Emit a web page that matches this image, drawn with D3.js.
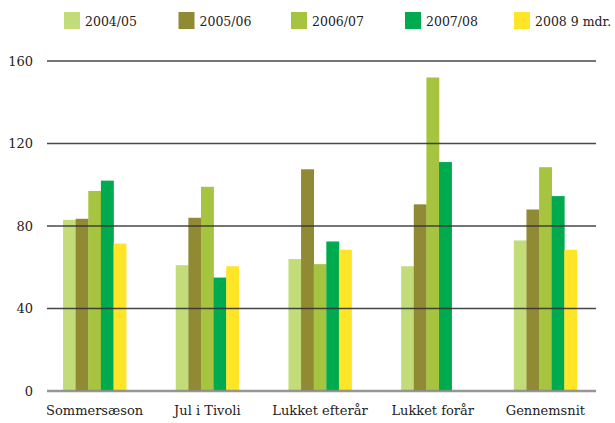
<!DOCTYPE html>
<html lang="da">
<head>
<meta charset="utf-8">
<title>Besøg pr. åbningsdag</title>
<script src="https://d3js.org/d3.v7.min.js"></script>
<style>
  body { margin: 0; background: #fff; }
  svg text { fill: #222; }
</style>
</head>
<body>
<svg id="chart" width="615" height="423"></svg>
<script>
// data
var categories = ["Sommersæson", "Jul i Tivoli", "Lukket efterår", "Lukket forår", "Gennemsnit"];
var seriesNames = ["2004/05", "2005/06", "2006/07", "2007/08", "2008 9 mdr."];
var s0405 = [83, 61, 64, 60.5, 73];
var s0506 = [83.5, 84, 107.5, 90.5, 88];
var s0607 = [97, 99, 61.5, 152, 108.5];
var s0708 = [102, 55, 72.5, 111, 94.5];
var s2008 = [71.5, 60.5, 68.5, null, 68.5];
var yTicks = [0, 40, 80, 120, 160];

var colors = ["#c3dc7a", "#908a35", "#a6c43f", "#00ab4f", "#ffe528"];
var allSeries = [s0405, s0506, s0607, s0708, s2008];
var serif = "DejaVu Serif";

var svg = d3.select("#chart");

var x = d3.scaleBand()
  .domain(categories)
  .range([40.5, 599.5])
  .paddingInner(0.44)
  .paddingOuter(0.2);

var xs = d3.scaleBand()
  .domain(seriesNames)
  .range([0, x.bandwidth()]);

var y = d3.scaleLinear()
  .domain([0, 160])
  .range([391, 61]);

// bars
var groups = svg.append("g").selectAll("g")
  .data(categories)
  .join("g")
  .attr("transform", function(d) { return "translate(" + x(d) + ",0)"; });

groups.selectAll("rect")
  .data(function(d, i) {
    return seriesNames.map(function(s, j) { return { s: s, v: allSeries[j][i], c: colors[j] }; })
      .filter(function(e) { return e.v != null; });
  })
  .join("rect")
  .attr("x", function(d) { return xs(d.s); })
  .attr("width", xs.bandwidth() + 0.3)
  .attr("y", function(d) { return y(d.v); })
  .attr("height", function(d) { return y(0) - y(d.v); })
  .attr("fill", function(d) { return d.c; });

// y labels
var yAxis = d3.axisLeft(y)
  .tickValues(yTicks)
  .tickSize(0)
  .tickPadding(14);

var ga = svg.append("g")
  .attr("transform", "translate(47,0)")
  .call(yAxis)
  .attr("font-family", serif)
  .attr("font-size", 13);
ga.select(".domain").remove();
ga.selectAll("text")
  .attr("dy", "0.32em");

// gridlines drawn over the bars
svg.append("g").selectAll("line")
  .data(yTicks)
  .join("line")
  .attr("x1", 47)
  .attr("x2", 596)
  .attr("y1", function(d) { return y(d); })
  .attr("y2", function(d) { return y(d); })
  .attr("stroke", function(d) { return d === 0 ? "#8c8c8c" : "#333"; })
  .attr("stroke-width", function(d) { return d === 0 ? 2.5 : 1.6; })
  .attr("stroke-opacity", 0.9);

// category labels
var xAxis = d3.axisBottom(x).tickSize(0).tickPadding(0);
var gx = svg.append("g")
  .attr("transform", "translate(0,406)")
  .call(xAxis)
  .attr("font-family", serif)
  .attr("font-size", 13);
gx.select(".domain").remove();
gx.selectAll("text")
  .attr("dy", "0.71em");

// legend
var legendX = [64, 178.5, 291, 405, 514];
var legend = svg.append("g")
  .attr("font-family", serif)
  .attr("font-size", 12.5)
  .selectAll("g")
  .data(seriesNames)
  .join("g")
  .attr("transform", function(d, i) { return "translate(" + legendX[i] + ",12)"; });

legend.append("rect")
  .attr("width", 16)
  .attr("height", 17)
  .attr("fill", function(d, i) { return colors[i]; });

legend.append("text")
  .attr("x", 21)
  .attr("y", 13.5)
  .text(function(d) { return d; });
</script>
</body>
</html>
